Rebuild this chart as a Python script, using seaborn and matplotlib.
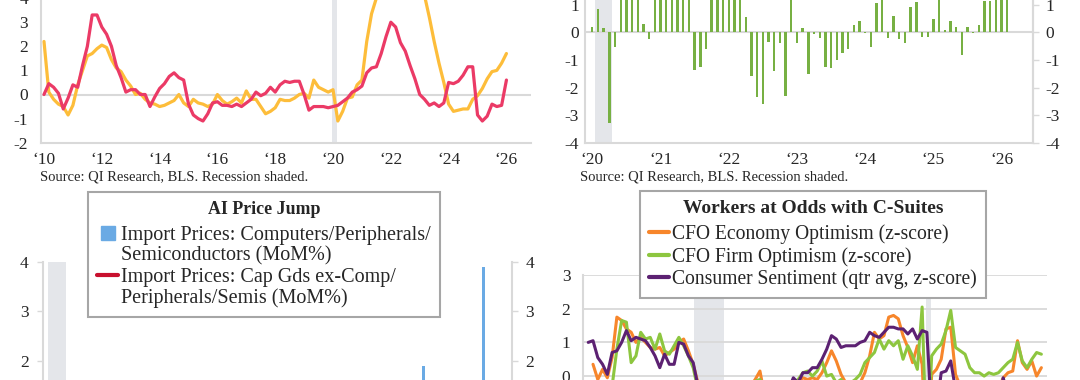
import numpy as np
import pandas as pd
import seaborn as sns
import matplotlib.pyplot as plt
from matplotlib.lines import Line2D

# ---------------- data ----------------
# top left: two inflation-style series, every 2 months Jan 2010 - Jan 2026
tl_pink = [0.0, 0.45, 0.3, 0.05, -0.6, -0.15,
           0.4, 0.3, 1.2, 2.0, 3.3, 3.3,
           2.8, 2.5, 2.0, 1.2, 0.7, 0.1,
           0.2, 0.2, 0.0, 0.0, -0.5, -0.1,
           0.25, 0.45, 0.75, 0.9, 0.7, 0.6,
           -0.4, -0.85, -1.0, -1.1, -0.8, -0.35,
           -0.3, -0.45, -0.45, -0.5, -0.4, -0.5,
           -0.35, -0.2, 0.1, -0.05, 0.05, 0.3,
           0.1, 0.4, 0.55, 0.5, 0.55, 0.55,
           0.0, -0.65, -0.5, -0.5, -0.5, -0.55,
           -0.5, -0.45, -0.3, -0.15, 0.1, 0.2,
           0.35, 0.9, 1.1, 1.15, 1.7, 2.4,
           3.0, 2.8, 2.15, 1.8, 1.2, 0.65,
           0.0, -0.2, -0.45, -0.35, -0.5, -0.35,
           0.5, 0.45, 0.55, 0.8, 1.15, 1.15,
           -0.85, -1.1, -0.9, -0.4, -0.5, -0.45,
           0.6]
tl_gold = [2.2, 0.1, -0.2, -0.4, -0.5, -0.85,
           -0.45, 0.4, 1.0, 1.6, 1.7, 1.9,
           2.05, 1.95, 1.45, 1.1, 0.95, 0.6,
           0.35, 0.0, 0.05, -0.2, -0.35, -0.4,
           -0.5, -0.45, -0.35, -0.25, 0.0, -0.35,
           -0.5, -0.2, -0.35, -0.4, -0.5, -0.4,
           0.0, -0.25, -0.4, -0.3, -0.15, -0.35,
           0.15, -0.2, -0.2, -0.5, -0.8, -0.7,
           -0.55, -0.2, -0.25, -0.25, -0.15, 0.0,
           0.05, -0.15, 0.6, 0.3, 0.2, 0.1,
           0.2, -1.1, -0.7, -0.15, -0.1, 0.4,
           0.6, 2.2, 3.35, 4.0, 4.8, 5.5,
           6.0, 6.4, 6.3, 6.0, 5.5, 4.9,
           4.4, 4.1, 3.2, 2.2, 1.3, 0.5,
           -0.4, -0.7, -0.65, -0.6, -0.6, -0.2,
           -0.05, 0.25, 0.65, 0.95, 1.0, 1.3,
           1.7]

# top right: monthly bars Jan 2020 - Feb 2026
tr_bars = [0.2, 0.85, 0.15, -3.3, -0.55, 3.2, 2.1, 1.6, 1.4, 0.3, -0.25, 1.5,
           1.9, 2.4, 1.7, 2.2, 1.8, 1.6, -1.35, -1.25, -0.6, 1.4, 1.9, 2.6,
           2.0, 1.7, 1.5, 0.55, -1.6, -2.35, -2.6, -0.35, -1.4, -0.4, -2.3, 1.3,
           -0.4, 0.15, -1.5, -0.07, -0.2, -1.27, -1.3, -1.0, -0.75, -0.6, 0.27, 0.42,
           -0.04, -0.55, 1.07, 1.4, -0.2, 0.6, -0.25, -0.37, 0.9, 1.1, -0.18, -0.18,
           0.5, 1.3, 0.08, 0.4, 0.2, -0.82, 0.2, -0.02, 0.25, 1.15, 1.15, 1.6,
           1.8, 1.5]

# bottom left: import prices MoM%, Jan 2020 - Feb 2026
ai_comp = [0.3, -0.2, 0.1, -0.4, 0.2, 0.5, -0.1, 0.0, 0.3, -0.3, 0.1, 0.4,
           0.2, -0.1, 0.6, 0.3, 0.1, -0.2, 0.4, 0.2, 0.0, 0.5, -0.3, 0.2,
           0.4, 0.1, -0.2, 0.3, 0.0, -0.4, 0.2, -0.1, 0.3, -0.2, 0.1, 0.0,
           -0.3, 0.2, 0.4, -0.1, 0.1, 0.3, -0.2, 0.0, 0.2, -0.4, 0.1, 0.3,
           0.0, 0.2, -0.1, 0.4, 0.1, -0.3, 0.2, 0.0, 0.5, -0.2, 0.3, 0.1,
           0.4, 0.6, 0.2, 1.9, 0.5, 0.3, -0.1, 0.4, 0.8, 0.2, 0.6, 0.9,
           0.7, 3.9]
ai_capgds = [0.2, 0.1, -0.1, -0.3, 0.0, 0.1, 0.2, 0.1, 0.0, 0.1, 0.2, 0.3,
             0.4, 0.3, 0.5, 0.6, 0.4, 0.7, 0.5, 0.6, 0.4, 0.5, 0.6, 0.4,
             0.5, 0.7, 0.8, 0.6, 0.3, 0.4, 0.2, 0.3, 0.1, 0.2, 0.0, 0.1,
             0.2, 0.1, 0.0, 0.2, 0.1, 0.0, 0.1, 0.2, 0.1, 0.0, 0.1, 0.2,
             0.0, 0.1, 0.2, 0.1, 0.0, 0.1, 0.2, 0.1, 0.0, 0.1, 0.2, 0.1,
             0.3, 0.2, 0.4, 0.5, 0.3, 0.2, 0.1, 0.3, 0.2, 0.4, 0.3, 0.2,
             0.3, 0.4]

# bottom right: quarterly z-scores, Q2 2002 - Q1 2026
nan = np.nan
cfo_econ = [nan, 0.35, -0.1,
            0.2, -0.05, 0.55, 1.75,  1.65, 1.4, 1.3, 1.0,  1.15, 1.0, 0.85, 0.8,
            0.85, 0.6, 0.7, 0.8,  1.0, 1.1, 0.75, 0.35,  -0.2, -1.0, -1.6, -2.4,
            -2.3, -1.4, -0.6, -0.4,  -0.3, -0.2, -0.5, -0.3,  -0.1, 0.15, -0.6, -0.9,
            -0.4, -0.3, -0.6, -0.8,  -0.3, -0.2, -0.05, -0.1,  -0.05, -0.1, 0.1, 0.4,
            0.75, 0.45, 0.05, -0.2,  -0.4, -0.3, -0.2, 0.1,  0.6, 1.3, 1.1, 1.2,
            1.75, 1.8, 1.7, 1.2,  0.85, 0.4, 0.9, 0.35,  -2.6, 0.05, 0.2, 0.5,
            1.4, 1.45, 0.05, -0.3,  -0.6, -1.0, -1.3, -1.1,  -0.8, -0.9, -0.6, -0.4,
            -0.05, 0.1, 0.15, 1.05,  0.4, 0.2, 0.45, 0.0,
            0.25]
cfo_firm = [nan, nan, nan,
            nan, nan, -0.3, 0.8,  1.65, 1.6, 0.4, 0.6,  1.3, 1.1, 1.15, 0.8,
            1.25, 0.75, 0.65, 0.9,  1.15, 0.9, 0.6, 0.25,  -0.4, -1.1, -1.5, -2.4,
            -2.6, -1.5, -0.7, -0.5,  -0.3, -0.3, -0.4, -0.3,  -0.15, -0.1, -0.5, -0.8,
            -0.3, -0.4, -0.5, -0.6,  -0.2, -0.1, 0.1, 0.15,  0.0, 0.15, 0.45, 0.0,
            0.05, -0.2, -0.1, -0.3,  -0.2, -0.1, 0.05, 0.4,  0.55, 0.7, 1.1, 0.8,
            1.05, 0.9, 1.05, 0.5,  0.9, 0.6, 0.2, 2.05,  -2.5, 0.6, 0.8, 0.95,
            1.35, 1.95, 0.85, 0.75,  0.65, 0.25, 0.1, 0.1,  0.0, 0.1, 0.05, 0.1,
            0.25, 0.4, 0.5, 1.0,  0.45, 0.25, 0.5, 0.7,
            0.65]
sentiment = [1.0, 1.05, 0.55,
             0.35, 0.05, 0.7, 0.75,  1.0, 1.35, 1.05, 1.15,  1.1, 1.05, 0.85, 0.6,
             0.25, 0.65, 0.35, 0.35,  1.0, 0.95, 0.6, 0.4,  -0.3, -1.2, -1.7, -2.1,
             -2.3, -1.7, -1.3, -1.4,  -1.2, -1.0, -1.1, -1.2,  -0.9, -1.0, -1.5, -1.6,
             -0.9, -0.6, -0.7, -0.4,  -0.05, -0.2, 0.1, 0.1,  0.25, 0.25, 0.5, 0.8,
             1.2, 1.1, 0.85, 0.9,  0.9, 0.9, 1.0, 1.05,  1.3, 1.2, 1.15, 1.3,
             1.45, 1.45, 1.4, 1.4,  1.25, 1.4, 1.1, 1.35,  1.3, -1.2, -1.0, 0.1,
             0.15, 0.45, -0.4, -1.5,  -1.8, -2.3, -2.5, -2.0,  -1.5, -1.4, -1.0, -1.1,
             -0.05, -0.6, -0.8, -0.7,  -1.2, -1.7, -1.5, -1.4,
             -1.6]


def dec_year(idx):
    return np.asarray(idx.year + (idx.month - 1) / 12, dtype=float)


tl_x = dec_year(pd.date_range('2010-01-01', periods=len(tl_pink), freq='2MS'))
tr_x = dec_year(pd.date_range('2020-01-01', periods=len(tr_bars), freq='MS'))
ai_x = dec_year(pd.date_range('2020-01-01', periods=len(ai_comp), freq='MS'))
qtr = pd.period_range('2002Q2', periods=len(sentiment), freq='Q')
br_x = np.asarray(qtr.year + (qtr.quarter - 1) / 4 + 0.125, dtype=float)

# ---------------- styling ----------------
sns.set_theme(style='white')
plt.rcParams['font.family'] = ['Liberation Serif', 'DejaVu Serif']
plt.rcParams['axes.unicode_minus'] = False

TXT = '#262626'
GRID = '#D9D9D9'
SHADE = '#E4E6EA'
TICK = 12.5

fig = plt.figure(figsize=(10.8, 3.8), dpi=100)


def axes_px(l, t, r, b):
    return fig.add_axes([l / 1080, 1 - b / 380, (r - l) / 1080, (b - t) / 380])


def style(ax, left=True, right=False, bottom=True):
    for side, on in (('left', left), ('right', right), ('bottom', bottom), ('top', False)):
        ax.spines[side].set_visible(on)
        ax.spines[side].set_color(GRID)
        ax.spines[side].set_linewidth(1.5)
    ax.tick_params(labelsize=TICK, colors=TXT, length=4, width=1, color=GRID, pad=5)
    ax.set_xlabel('')
    ax.set_ylabel('')
    ax.set_facecolor('none')


def yr_labels(years):
    return ['\u2018%02d' % (y % 100) for y in years]


def boxed_legend(ax, handles, labels, title, left, top, size, title_size, spacing, title_gap):
    leg = ax.legend(handles=handles, labels=labels, title=title, loc='upper left',
                    bbox_to_anchor=(left / 1080, 1 - top / 380), bbox_transform=fig.transFigure,
                    frameon=True, fancybox=False, edgecolor='#A6A6A6', framealpha=1,
                    fontsize=size, title_fontproperties={'weight': 'bold', 'size': title_size},
                    handlelength=1.05, handletextpad=0.15, borderpad=0.45,
                    labelspacing=spacing, borderaxespad=0)
    leg.get_frame().set_linewidth(1.5)
    leg.set_zorder(10)
    leg._legend_box.sep = title_gap  # extra room under the title, in points
    for t in leg.get_texts():
        t.set_color(TXT)
    return leg


# ---------------- top left ----------------
ax1 = axes_px(40.7, 142.7 - 8 * 24.1, 531, 142.7)
ax1.axvspan(2019.95, 2020.15, color=SHADE, lw=0, zorder=0)
ax1.axhline(0, color=GRID, lw=1.5, zorder=1)
sns.lineplot(x=tl_x, y=tl_gold, ax=ax1, color='#FDBD3A', lw=2.3, zorder=3)
sns.lineplot(x=tl_x, y=tl_pink, ax=ax1, color='#EB3A66', lw=2.3, zorder=4)
ax1.set_xlim(2009.886, 2026.85)
ax1.set_ylim(-2, 6)
ax1.set_yticks(range(-2, 5))
ax1.set_xticks(range(2010, 2027, 2))
ax1.set_xticklabels(yr_labels(range(2010, 2027, 2)))
style(ax1)
ax1.tick_params(axis='x', length=0, pad=7)

# ---------------- top right ----------------
ax2 = axes_px(585, 142.7 - 8 * 27.6, 1033, 142.7)
ax2.axvspan(2020 + 0.5 / 12, 2020 + 3.5 / 12, color=SHADE, lw=0, zorder=0)
ax2.axhline(0, color=GRID, lw=1.5, zorder=1)
sns.barplot(x=tr_x, y=tr_bars, ax=ax2, native_scale=True, width=0.42, linewidth=0,
            color='#77B043', saturation=1, errorbar=None, zorder=3)
ax2.set_xlim(2019.893, 2026.46)
ax2.set_ylim(-4, 4)
ax2.set_yticks(range(-4, 2))
ax2.set_xticks(range(2020, 2027))
ax2.set_xticklabels(yr_labels(range(2020, 2027)))
style(ax2, right=True)
ax2.tick_params(axis='y', length=0, pad=4.3)
ax2.tick_params(axis='x', length=0, pad=7)

ax2r = ax2.twinx()
ax2r.set_ylim(-4, 4)
ax2r.set_yticks(range(-4, 2))
style(ax2r, left=False, right=True, bottom=False)
ax2r.grid(False)

for x in (40, 580):
    fig.text(x / 1080, 1 - 177 / 380, 'Source: QI Research, BLS. Recession shaded.',
             ha='left', va='center', fontsize=10.5, color=TXT)

# ---------------- bottom left ----------------
ax3 = axes_px(42.6, 261.7, 511.7, 261.7 + 6 * 49.5)
ax3.axvspan(2020 + 0.5 / 12, 2020 + 3.5 / 12, color=SHADE, lw=0, zorder=0)
blue = '#6AAAE4'
red = '#C8102E'
sns.barplot(x=ai_x, y=ai_comp, ax=ax3, native_scale=True, width=0.42, linewidth=0,
            color=blue, saturation=1, errorbar=None, zorder=3)
sns.lineplot(x=ai_x, y=ai_capgds, ax=ax3, color=red, lw=2.2, zorder=4)
ax3.set_xlim(2019.961, 2026.476)
ax3.set_ylim(-2, 4)
ax3.set_yticks(range(2, 5))
style(ax3, right=True, bottom=False)
ax3.tick_params(axis='y', left=True, right=True, labelleft=True, labelright=True, pad=6)
ax3.set_xticks([])

blank = Line2D([], [], color='none')
boxed_legend(ax3,
             [Line2D([], [], marker='s', markersize=10, color=blue, linestyle='none'), blank,
              Line2D([], [], color=red, lw=3), blank],
             ['Import Prices: Computers/Peripherals/', 'Semiconductors (MoM%)',
              'Import Prices: Cap Gds ex-Comp/', 'Peripherals/Semis (MoM%)'],
             'AI Price Jump', 88, 192, 14.5, 12.9, 0.08, 5.7)

# ---------------- bottom right ----------------
ax4 = axes_px(583, 275, 1047, 275 + 7 * 33.7)
ax4.axvspan(2007.92, 2009.5, color=SHADE, lw=0, zorder=0)
ax4.axvspan(2020.08, 2020.33, color=SHADE, lw=0, zorder=0)
for v in range(-4, 4):
    ax4.axhline(v, color=GRID, lw=1.3, zorder=1)
c_or, c_gr, c_pu = '#F7862B', '#8DC63F', '#5C2172'
sns.lineplot(x=br_x, y=cfo_econ, ax=ax4, color=c_or, lw=2.2, zorder=3)
sns.lineplot(x=br_x, y=cfo_firm, ax=ax4, color=c_gr, lw=2.2, zorder=4)
sns.lineplot(x=br_x, y=sentiment, ax=ax4, color=c_pu, lw=2.2, zorder=5)
ax4.set_xlim(2002.1, 2026.42)
ax4.set_ylim(-4, 3)
ax4.set_yticks(range(0, 4))
style(ax4, bottom=False)
ax4.tick_params(axis='y', length=0, pad=9)
ax4.set_xticks([])

boxed_legend(ax4, [Line2D([], [], color=c, lw=3) for c in (c_or, c_gr, c_pu)],
             ['CFO Economy Optimism (z-score)', 'CFO Firm Optimism (z-score)',
              'Consumer Sentiment (qtr avg, z-score)'],
             'Workers at Odds with C-Suites', 640, 191, 14.1, 14, 0.15, 5.3)

fig.savefig('out.png', dpi=100)
